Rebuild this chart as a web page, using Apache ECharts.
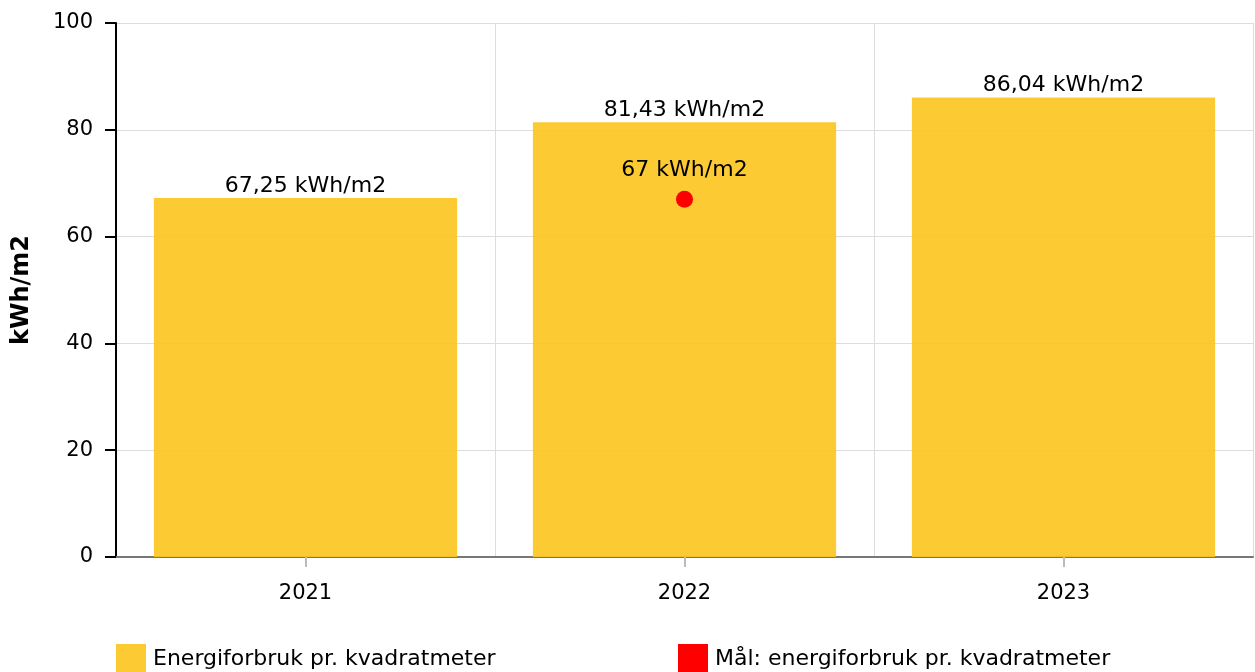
<!DOCTYPE html>
<html>
<head>
<meta charset="utf-8">
<script src="https://cdn.jsdelivr.net/npm/echarts@6/dist/echarts.min.js"></script>
<style>
  html, body { margin: 0; padding: 0; background: #fff; }
  #chart { width: 1255px; height: 672px; }
</style>
</head>
<body>
<div id="chart"></div>
<script>
// år
var years = ['2021', '2022', '2023'];
// energiforbruk pr. kvadratmeter
var forbruk = [67.25, 81.43, 86.04];
// mål (bare for 2022)
var maal = [null, 67, null];
var yTicks = [0, 20, 40, 60, 80, 100];

var fontName = 'DejaVu Sans';

function kwh(v) {
  return String(v).replace('.', ',') + ' kWh/m2';
}

var myChart = echarts.init(document.getElementById('chart'));
var option = {
  animation: false,
  textStyle: { fontFamily: fontName },
  grid: { left: 116, right: 2, top: 23, bottom: 115 },
  legend: [
    {
      left: 116, top: 644, padding: 0,
      itemWidth: 30, itemHeight: 30, itemGap: 0,
      icon: 'rect',
      textStyle: { fontSize: 22, color: '#000', fontFamily: fontName, padding: [6, 0, 0, 2] },
      data: ['Energiforbruk pr. kvadratmeter']
    },
    {
      left: 678, top: 644, padding: 0,
      itemWidth: 30, itemHeight: 30,
      icon: 'rect',
      textStyle: { fontSize: 22, color: '#000', fontFamily: fontName, padding: [6, 0, 0, 2] },
      data: ['Mål: energiforbruk pr. kvadratmeter']
    }
  ],
  xAxis: {
    type: 'category',
    data: years,
    axisLine: { lineStyle: { color: '#777', width: 2 } },
    axisTick: { show: true, alignWithLabel: true, length: 10, lineStyle: { color: '#bbb', width: 2 } },
    axisLabel: { fontSize: 21, color: '#000', margin: 26, fontFamily: fontName },
    splitLine: { show: true, lineStyle: { color: '#ddd', width: 1 } }
  },
  yAxis: {
    type: 'value',
    min: yTicks[0],
    max: yTicks[yTicks.length - 1],
    interval: 20,
    name: 'kWh/m2',
    nameLocation: 'middle',
    nameGap: 82,
    nameTextStyle: { fontSize: 24, fontWeight: 'bold', color: '#000', fontFamily: fontName },
    axisLine: { show: true, lineStyle: { color: '#000', width: 2 } },
    axisTick: { show: true, length: 11, lineStyle: { color: '#000', width: 2 } },
    axisLabel: { fontSize: 21, color: '#000', margin: 23, fontFamily: fontName },
    splitLine: { show: true, lineStyle: { color: '#ddd', width: 1 } }
  },
  series: [
    {
      name: 'Energiforbruk pr. kvadratmeter',
      type: 'bar',
      data: forbruk,
      barCategoryGap: '20%',
      itemStyle: { color: 'rgba(252,196,29,0.9)' },
      label: {
        show: true,
        position: 'top',
        distance: 1,
        fontSize: 22,
        color: '#000',
        fontFamily: fontName,
        formatter: function (p) { return kwh(p.value); }
      }
    },
    {
      name: 'Mål: energiforbruk pr. kvadratmeter',
      type: 'scatter',
      data: maal,
      symbolSize: 17,
      itemStyle: { color: '#ff0000', opacity: 1 },
      label: {
        show: true,
        position: 'top',
        distance: 9,
        fontSize: 22,
        color: '#000',
        fontFamily: fontName,
        formatter: function (p) { return kwh(p.value); }
      }
    }
  ]
};
myChart.setOption(option);
window.addEventListener('resize', function () {
  myChart.resize();
});
</script>
</body>
</html>
